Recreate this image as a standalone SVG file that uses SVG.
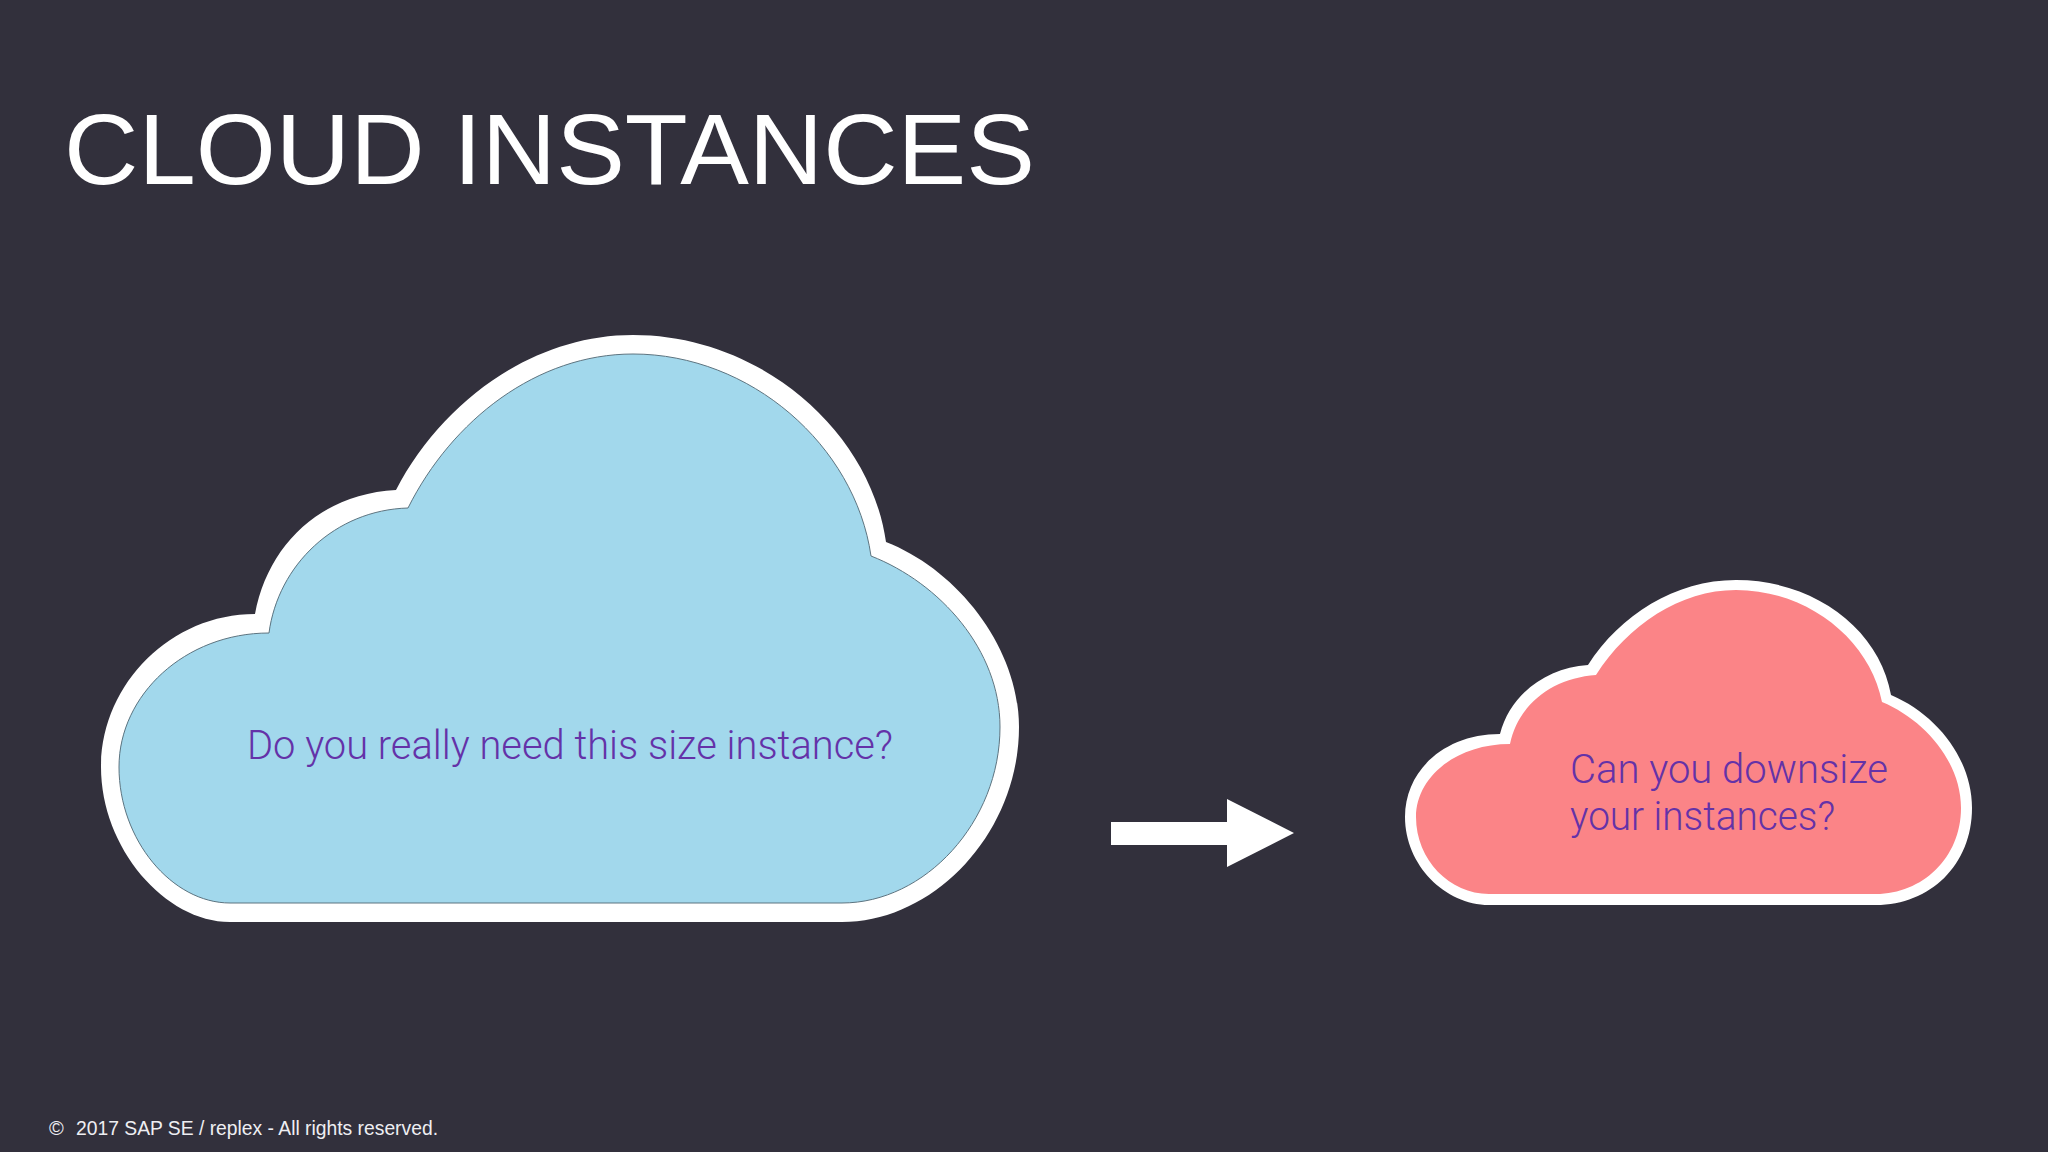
<svg xmlns="http://www.w3.org/2000/svg" width="2048" height="1152" viewBox="0 0 2048 1152">
<style>
.outer{fill:#fff}
.q{font-family:Roboto,"Open Sans",sans-serif;font-weight:300;font-size:40px;fill:#6432a8}
.title{font-family:"Liberation Sans",Arial,sans-serif;font-size:101px;fill:#fff}
.foot{font-family:"Liberation Sans",Arial,sans-serif;font-size:20px;fill:#eeeef2}
</style>
<rect width="2048" height="1152" fill="#32303c"/>
<text class="title" x="64" y="184" textLength="971" lengthAdjust="spacingAndGlyphs">CLOUD INSTANCES</text>
<g id="cloud-large">
<path class="outer" d="M230 922C165 922 101 848 101 767C101 685 170 614 255 614C268 545 320 494 396 490C442 402 532 335 633 335C760 335 870 430 886 542C958 570 1019 648 1019 727C1019 832 935 922 842 922Z"/>
<path fill="#a2d8ec" stroke="#5d7480" stroke-width="1" d="M230 903C172 903 119 840 119 767C119 695 185 633 269 633C278 565 335 510 408 508C452 420 537 354 633 354C750 354 855 445 871 556C940 583 1000 650 1000 727C1000 822 925 903 842 903Z"/>
<text class="q" x="247" y="759" textLength="646" lengthAdjust="spacingAndGlyphs">Do you really need this size instance?</text>
</g>
<g id="connectors">
<path fill="#fff" d="M1111 822H1227V799L1294 833L1227 867V845H1111Z"/>
</g>
<g id="cloud-small">
<path class="outer" d="M1489 905C1445 905 1405 865 1405 817C1405 770 1445 734 1500 734C1510 695 1545 668 1588 665C1620 615 1675 580 1736 580C1815 580 1880 630 1891 695C1938 715 1972 760 1972 808C1972 865 1930 905 1876 905Z"/>
<path fill="#fb8487" d="M1489 894C1450 894 1416 860 1416 817C1416 778 1455 744 1510 744C1518 705 1552 678 1596 675C1628 625 1680 590 1736 590C1808 590 1870 640 1882 702C1925 720 1961 762 1961 808C1961 858 1922 894 1876 894Z"/>
<text class="q"><tspan x="1570" y="783" textLength="318" lengthAdjust="spacingAndGlyphs">Can you downsize</tspan><tspan x="1570" y="830" textLength="265" lengthAdjust="spacingAndGlyphs">your instances?</tspan></text>
</g>
<text class="foot" y="1135"><tspan x="49">©</tspan><tspan x="76" textLength="362" lengthAdjust="spacingAndGlyphs">2017 SAP SE / replex - All rights reserved.</tspan></text>
</svg>
